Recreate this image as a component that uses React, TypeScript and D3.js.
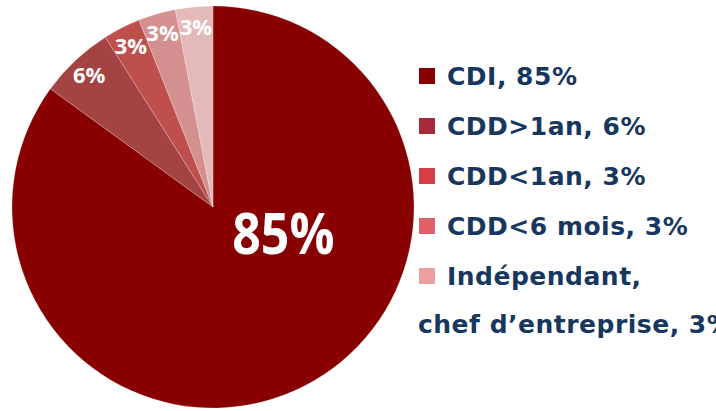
import React from "react";
import * as d3 from "d3";

const categories = ["CDI", "CDD>1an", "CDD<1an", "CDD<6 mois", "Indépendant, chef d’entreprise"];
const values = [85, 6, 3, 3, 3];
const legendLines = [
  ["CDI, 85%"],
  ["CDD>1an, 6%"],
  ["CDD<1an, 3%"],
  ["CDD<6 mois, 3%"],
  ["Indépendant,", "chef d’entreprise, 3%"],
];
const sliceColors = ["#880000", "#A34342", "#BF4F4C", "#D49090", "#E3B9B9"];
const legendColors = ["#880000", "#A52B3A", "#DB3D45", "#E0616A", "#ED9FA3"];

const W = 716;
const H = 411;
const cx = 213;
const cy = 207;
const R = 201;

export default function App() {
  const pie = d3.pie<number>().sort(null).value((d) => d).startAngle(0).endAngle(2 * Math.PI);
  const arcs = pie(values);
  const arc = d3.arc<d3.PieArcDatum<number>>().innerRadius(0).outerRadius(R);
  const labelArc = d3.arc<d3.PieArcDatum<number>>().innerRadius(181).outerRadius(181);

  const legendX = 419;
  const legendTextX = 447;
  const rowY = d3.scaleLinear().domain([0, 4]).range([85, 285]);

  return (
    <div style={{ position: "absolute", left: 0, top: 0 }}>
      <svg width={W} height={H} style={{ display: "block" }}>
        <rect width={W} height={H} fill="#ffffff" />
        <g transform={`translate(${cx},${cy})`}>
          {arcs.map((a, i) => (
            <path key={i} d={arc(a) || ""} fill={sliceColors[i]} stroke="#ffffff" strokeOpacity={0.35} strokeWidth={0.6} />
          ))}
          {arcs.map((a, i) => {
            if (i === 0) {
              return (
                <g key={i} transform={`translate(${R * 0.35},${R * 0.13 + 21}) scale(1,1.16)`}>
                  <text
                    x={0}
                    y={0}
                    textAnchor="middle"
                    fill="#ffffff"
                    fontFamily="'Open Sans', sans-serif"
                    fontWeight={700}
                    fontSize={50}
                  >
                    {values[i]}%
                  </text>
                </g>
              );
            }
            const [x, y] = labelArc.centroid(a);
            return (
              <text
                key={i}
                x={x}
                y={y + 8}
                textAnchor="middle"
                fill="#ffffff"
                fontFamily="'Open Sans', sans-serif"
                fontWeight={700}
                fontSize={22}
              >
                {values[i]}%
              </text>
            );
          })}
        </g>
        <g fontFamily="'DejaVu Sans', Verdana, sans-serif" fontWeight="bold" fontSize={25} fill="#17375E">
          {categories.map((c, i) => {
            const y = rowY(i);
            const lines = legendLines[i];
            return (
              <g key={c}>
                <rect x={legendX} y={y - 17} width={16} height={16} fill={legendColors[i]} />
                <text x={legendTextX} y={y} letterSpacing={0.5}>
                  {lines[0]}
                </text>
                {lines[1] && (
                  <text x={418} y={y + 48} letterSpacing={0.5}>
                    {lines[1]}
                  </text>
                )}
              </g>
            );
          })}
        </g>
      </svg>
    </div>
  );
}
